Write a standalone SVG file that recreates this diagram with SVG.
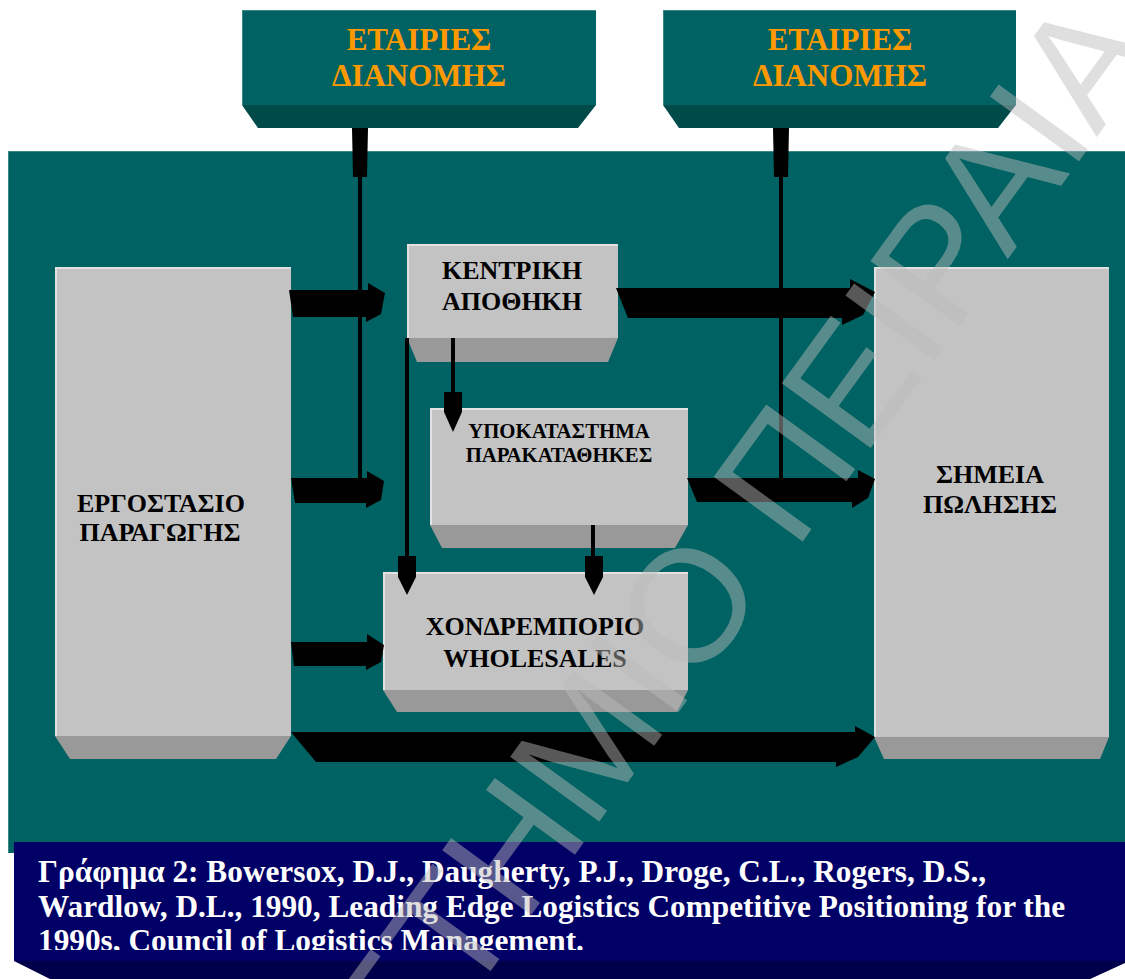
<svg xmlns="http://www.w3.org/2000/svg" width="1125" height="979" viewBox="0 0 1125 979">
<defs>
<style>
.face{fill:#c3c3c3}
.hl{fill:#e2e2e2}
.bev{fill:#999999}
.tface{fill:#006262}
.tbev{fill:#004a4a}
.thl{fill:#3d8686}
.lbl{font-family:"Liberation Serif","Times New Roman",serif;font-weight:bold;fill:#000;text-anchor:middle;font-size:26px}
.sm{font-size:20.8px}
.org{font-family:"Liberation Serif","Times New Roman",serif;font-weight:bold;fill:#ff9900;text-anchor:middle;font-size:31px}
.arr{fill:#000}
.ln{stroke:#000;stroke-width:4;fill:none}
.cap{font-family:"Liberation Serif","Times New Roman",serif;font-weight:bold;fill:#fff;font-size:31.3px}
.wm{font-family:"Liberation Sans",Arial,sans-serif;font-size:160px;fill:#bcbcbc;fill-opacity:0.47}
</style>
<clipPath id="capclip"><rect x="0" y="845" width="1125" height="105"/></clipPath>
</defs>
<rect x="0" y="0" width="1125" height="979" fill="#ffffff"/>

<g id="panel">
<rect x="8" y="151" width="1130" height="702" class="tface"/>
<rect x="8" y="151" width="1130" height="1" class="thl"/>
<rect x="8" y="151" width="1" height="702" class="thl"/>
</g>

<g id="dist1">
<rect x="242" y="10" width="354" height="95" class="tface"/>
<rect x="242" y="10" width="354" height="1" class="thl"/>
<rect x="242" y="10" width="1" height="95" class="thl"/>
<polygon points="242,105 596,105 578,128 258,128" class="tbev"/>
<text class="org" x="419" y="50">ΕΤΑΙΡΙΕΣ</text>
<text class="org" x="419" y="86">ΔΙΑΝΟΜΗΣ</text>
</g>

<g id="dist2">
<rect x="663" y="10" width="353" height="95" class="tface"/>
<rect x="663" y="10" width="353" height="1" class="thl"/>
<rect x="663" y="10" width="1" height="95" class="thl"/>
<polygon points="663,105 1016,105 998,128 679,128" class="tbev"/>
<text class="org" x="840" y="50">ΕΤΑΙΡΙΕΣ</text>
<text class="org" x="840" y="86">ΔΙΑΝΟΜΗΣ</text>
</g>

<g id="factory">
<rect x="55" y="267" width="236" height="469" class="face"/>
<rect x="55" y="267" width="236" height="2" class="hl"/>
<rect x="55" y="267" width="2" height="469" class="hl"/>
<polygon points="55,736 291,736 276,759 70,759" class="bev"/>
<text class="lbl" x="161" y="512">ΕΡΓΟΣΤΑΣΙΟ</text>
<text class="lbl" x="160" y="541">ΠΑΡΑΓΩΓΗΣ</text>
</g>

<g id="central">
<rect x="407" y="244" width="211" height="94" class="face"/>
<rect x="407" y="244" width="211" height="2" class="hl"/>
<rect x="407" y="244" width="2" height="94" class="hl"/>
<polygon points="407,338 618,338 608,362 417,362" class="bev"/>
<text class="lbl" x="512" y="279">ΚΕΝΤΡΙΚΗ</text>
<text class="lbl" x="512" y="310">ΑΠΟΘΗΚΗ</text>
</g>

<g id="branch">
<rect x="430" y="408" width="258" height="117" class="face"/>
<rect x="430" y="408" width="258" height="2" class="hl"/>
<rect x="430" y="408" width="2" height="117" class="hl"/>
<polygon points="430,525 688,525 675,548 442,548" class="bev"/>
<text class="lbl sm" x="559" y="438">ΥΠΟΚΑΤΑΣΤΗΜΑ</text>
<text class="lbl sm" x="559" y="462">ΠΑΡΑΚΑΤΑΘΗΚΕΣ</text>
</g>

<g id="wholesale">
<rect x="383" y="572" width="305" height="118" class="face"/>
<rect x="383" y="572" width="305" height="2" class="hl"/>
<rect x="383" y="572" width="2" height="118" class="hl"/>
<polygon points="383,690 688,690 677,712 397,712" class="bev"/>
<text class="lbl" x="535" y="635">ΧΟΝΔΡΕΜΠΟΡΙΟ</text>
<text class="lbl" x="535" y="667">WHOLESALES</text>
</g>

<g id="retail">
<rect x="874" y="267" width="235" height="470" class="face"/>
<rect x="874" y="267" width="235" height="2" class="hl"/>
<rect x="874" y="267" width="2" height="470" class="hl"/>
<polygon points="874,737 1109,737 1100,759 884,759" class="bev"/>
<text class="lbl" x="990" y="483">ΣΗΜΕΙΑ</text>
<text class="lbl" x="990" y="513">ΠΩΛΗΣΗΣ</text>
</g>

<g id="connectors">
<polygon class="arr" points="352,128 368,128 367,177 353,177"/>
<line class="ln" x1="360" y1="176" x2="360" y2="479"/>
<polygon class="arr" points="773,128 789,128 788,177 774,177"/>
<line class="ln" x1="781" y1="176" x2="781" y2="479"/>

<polygon class="arr" points="289,290 368,290 368,283 385,293 381,314 366,322 366,317 293,317"/>
<polygon class="arr" points="291,478 367,478 367,471 384,481 381,500 366,508 366,503 295,503"/>
<polygon class="arr" points="291,642 367,642 367,634 384,645 381,662 366,670 366,666 294,666"/>
<polygon class="arr" points="616,288 850,288 850,279 875,292 863,315 842,325 842,318 628,318"/>
<polygon class="arr" points="687,478 858,478 858,470 875,479 868,498 852,508 852,502 697,502"/>
<polygon class="arr" points="291,732 855,732 855,726 875,737 858,757 836,767 836,762 316,762"/>

<line class="ln" x1="453" y1="338" x2="453" y2="394"/>
<polygon class="arr" points="444,392 462,392 462,412 453,432 444,412"/>
<line class="ln" x1="407" y1="338" x2="407" y2="558"/>
<polygon class="arr" points="398,556 416,556 416,577 407,595 398,577"/>
<line class="ln" x1="593" y1="525" x2="593" y2="558"/>
<polygon class="arr" points="585,556 603,556 603,577 594,595 585,577"/>
</g>

<g id="caption">
<rect x="14" y="842" width="1120" height="119" fill="#000066"/>
<g clip-path="url(#capclip)">
<text class="cap" x="38" y="882">Γράφημα 2: Bowersox, D.J., Daugherty, P.J., Droge, C.L., Rogers, D.S.,</text>
<text class="cap" x="38" y="917">Wardlow, D.L., 1990, Leading Edge Logistics Competitive Positioning for the</text>
<text class="cap" x="38" y="951">1990s, Council of Logistics Management.</text>
</g>
<polygon points="14,961 1125,961 1125,963 1088,980 52,980" fill="#00004a"/>
</g>

<g id="watermark" transform="translate(795,552) rotate(-54)">
<text class="wm" x="-44" y="0" text-anchor="end">ΠΑΝΕΠΙΣΤΗΜΙΟ</text>
<text class="wm" x="0" y="0">ΠΕΙΡΑΙΑ</text>
</g>
</svg>
